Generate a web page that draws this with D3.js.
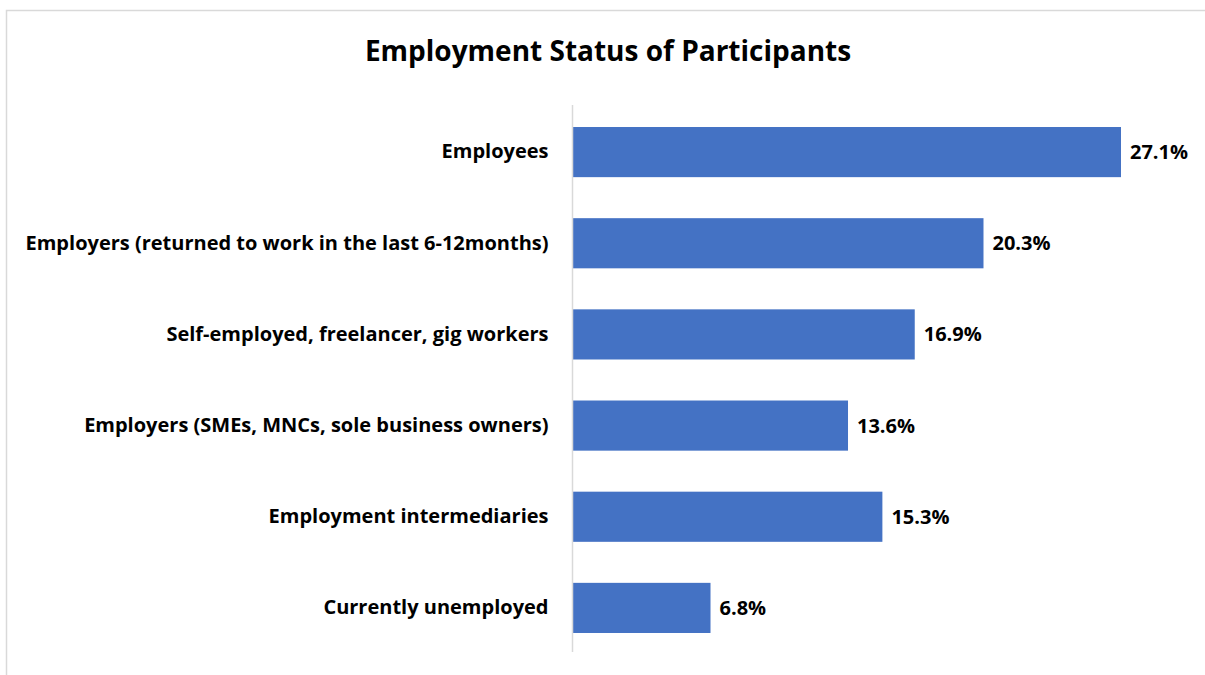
<!DOCTYPE html>
<html>
<head>
<meta charset="utf-8">
<script src="https://cdn.jsdelivr.net/npm/d3@7"></script>
<style>
  html, body { margin: 0; padding: 0; background: #fff; }
  svg { display: block; }
  text { font-family: "Open Sans", Lato, sans-serif; font-weight: 700; fill: #000; }
</style>
</head>
<body>
<svg id="chart" width="1205" height="675"></svg>
<script>
// Employment status shares (percent of participants)
const categories = [
  "Employees",
  "Employers (returned to work in the last 6-12months)",
  "Self-employed, freelancer, gig workers",
  "Employers (SMEs, MNCs, sole business owners)",
  "Employment intermediaries",
  "Currently unemployed"
];
const values = [27.1, 20.3, 16.9, 13.6, 15.3, 6.8];
const title = "Employment Status of Participants";

const svg = d3.select("#chart");
const W = 1205, H = 675;

// Chart area frame
svg.append("path")
  .attr("d", `M6.5,${H} V10.5 H${W}`)
  .attr("fill", "none")
  .attr("stroke", "#d9d9d9")
  .attr("stroke-width", 1.5);

const x0 = 573;
const x = d3.scaleLinear().domain([0, 27.1]).range([x0, 1121]);
const y = d3.scaleBand().domain(categories).range([106.5, 653.5]).paddingInner(0.45).paddingOuter(0.225);

svg.append("text")
  .attr("x", 608).attr("y", 61)
  .attr("text-anchor", "middle")
  .style("font-size", "28px")
  .text(title);

// Bars
svg.selectAll("rect.bar")
  .data(values)
  .join("rect")
  .attr("class", "bar")
  .attr("x", x0)
  .attr("y", (d, i) => y(categories[i]))
  .attr("width", d => x(d) - x0)
  .attr("height", y.bandwidth())
  .attr("fill", "#4472c4");

// Category axis
const axis = d3.axisLeft(y).tickSize(0).tickPadding(24);
const gAxis = svg.append("g").attr("transform", `translate(${x0 - 0.5},0)`).call(axis);
gAxis.select(".domain").remove();
gAxis.append("line")
  .attr("x1", 0).attr("x2", 0)
  .attr("y1", 105).attr("y2", 652)
  .attr("stroke", "#d9d9d9").attr("stroke-width", 1.5);
gAxis.selectAll(".tick text")
  .style("font-family", "'Open Sans', Lato, sans-serif")
  .style("font-weight", 700)
  .style("font-size", "20px")
  .attr("fill", "#000");

// Value labels
svg.selectAll("text.val")
  .data(values)
  .join("text")
  .attr("class", "val")
  .attr("x", d => x(d) + 9)
  .attr("y", (d, i) => y(categories[i]) + y.bandwidth() / 2)
  .attr("dy", "0.35em")
  .style("font-size", "20px")
  .text(d => d.toFixed(1) + "%");
</script>
</body>
</html>
